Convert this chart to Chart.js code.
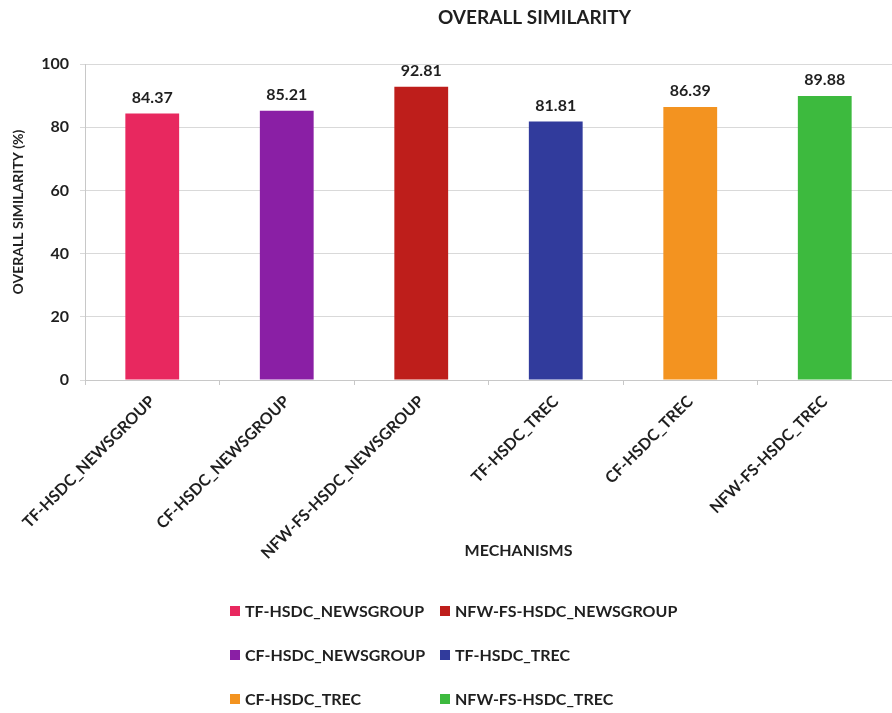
<!DOCTYPE html>
<html>
<head>
<meta charset="utf-8">
<script src="https://cdn.jsdelivr.net/npm/chart.js@4.4.0/dist/chart.umd.min.js"></script>
<style>
  html, body { margin: 0; padding: 0; background: #ffffff; }
  #wrap { width: 892px; height: 713px; position: relative; }
</style>
</head>
<body>
<div id="wrap"><canvas id="chart" width="892" height="713"></canvas></div>
<script>
// Mechanisms compared and their overall similarity scores (%)
const mechanisms = [
  'TF-HSDC_NEWSGROUP',
  'CF-HSDC_NEWSGROUP',
  'NFW-FS-HSDC_NEWSGROUP',
  'TF-HSDC_TREC',
  'CF-HSDC_TREC',
  'NFW-FS-HSDC_TREC'
];
const similarity = [84.37, 85.21, 92.81, 81.81, 86.39, 89.88];
const barColors = ['#E8285F', '#8A1FA5', '#BE1E1B', '#313B9C', '#F39320', '#3DBA3E'];
const yTicks = [0, 20, 40, 60, 80, 100];
// legend grid, read row by row (two columns)
const legendOrder = [0, 2, 1, 3, 4, 5];

const FONT = 'Lato, "Open Sans", sans-serif';
const INK = '#1f1f1f';

// value above each bar
const valueLabels = {
  id: 'valueLabels',
  afterDatasetsDraw(chart) {
    const ctx = chart.ctx;
    const meta = chart.getDatasetMeta(0);
    ctx.save();
    ctx.font = 'bold 16px ' + FONT;
    ctx.fillStyle = INK;
    ctx.textAlign = 'center';
    ctx.textBaseline = 'bottom';
    meta.data.forEach((bar, i) => {
      ctx.fillText(similarity[i].toFixed(2), bar.x, bar.y - 8);
    });
    ctx.restore();
  }
};

// chart heading, axis titles
const headings = {
  id: 'headings',
  afterDraw(chart) {
    const ctx = chart.ctx;
    const area = chart.chartArea;
    const mid = (area.left + area.right) / 2;
    ctx.save();
    ctx.fillStyle = INK;
    ctx.textAlign = 'center';
    ctx.textBaseline = 'middle';
    ctx.font = 'bold 19px ' + FONT;
    ctx.fillText('OVERALL SIMILARITY', mid + 46, 18);
    ctx.font = 'bold 16px ' + FONT;
    ctx.fillText('MECHANISMS', mid + 30, 551);
    ctx.translate(18, 212);
    ctx.rotate(-Math.PI / 2);
    ctx.font = 'bold 14px ' + FONT;
    ctx.fillText('OVERALL SIMILARITY (%)', 0, 0);
    ctx.restore();
  }
};

// two-column legend under the axis title
const gridLegend = {
  id: 'gridLegend',
  afterDraw(chart) {
    const ctx = chart.ctx;
    const colX = [230, 440];
    const rowY = [611, 655, 699];
    ctx.save();
    ctx.font = 'bold 16px ' + FONT;
    ctx.textAlign = 'left';
    ctx.textBaseline = 'middle';
    legendOrder.forEach((idx, k) => {
      const x = colX[k % 2];
      const y = rowY[Math.floor(k / 2)];
      ctx.fillStyle = chart.data.datasets[0].backgroundColor[idx];
      ctx.fillRect(x, y - 5, 10, 10);
      ctx.fillStyle = INK;
      ctx.fillText(chart.data.labels[idx], x + 15, y + 1);
    });
    ctx.restore();
  }
};

new Chart(document.getElementById('chart'), {
  type: 'bar',
  data: {
    labels: mechanisms,
    datasets: [{
      data: similarity,
      backgroundColor: barColors,
      borderWidth: 0,
      barPercentage: 0.4,
      categoryPercentage: 1.0
    }]
  },
  options: {
    responsive: false,
    animation: false,
    devicePixelRatio: 1,
    layout: { padding: { top: 64, right: 0, bottom: 0, left: 0 } },
    plugins: {
      legend: { display: false },
      title: { display: false },
      tooltip: { enabled: false }
    },
    scales: {
      y: {
        min: 0,
        max: 100,
        afterFit(scale) { scale.width = 85; },
        afterBuildTicks(scale) { scale.ticks = yTicks.map(v => ({ value: v })); },
        border: { display: true, color: '#c8c8c8', width: 1 },
        grid: { color: '#d9d9d9', lineWidth: 1, tickLength: 5, drawTicks: true },
        ticks: {
          font: { family: FONT, size: 16, weight: 'bold' },
          color: INK,
          padding: 11
        }
      },
      x: {
        afterFit(scale) { scale.height = 713 - 64 - 316; },
        border: { display: true, color: '#c8c8c8', width: 1 },
        grid: {
          offset: true,
          drawOnChartArea: false,
          drawTicks: true,
          tickLength: 5,
          color: '#c8c8c8'
        },
        ticks: {
          font: { family: FONT, size: 16, weight: 'bold' },
          color: INK,
          minRotation: 45,
          maxRotation: 45,
          autoSkip: false,
          padding: 7
        }
      }
    }
  },
  plugins: [valueLabels, headings, gridLegend]
});
</script>
</body>
</html>
